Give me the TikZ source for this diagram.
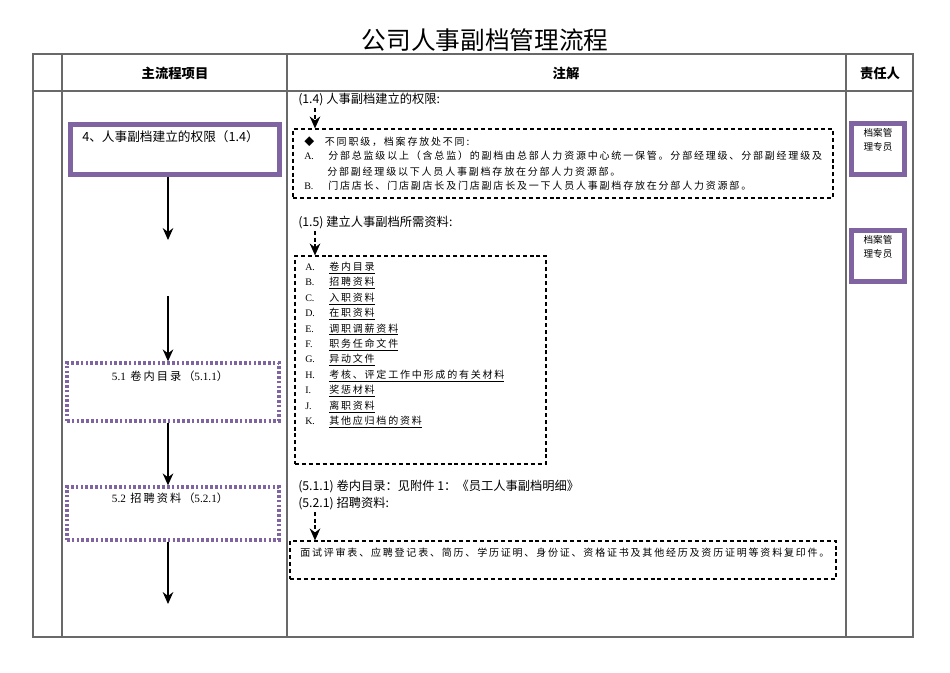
\documentclass[tikz,border=0pt]{standalone}
\usepackage{fontspec}
\setmainfont{Noto Sans CJK SC}
\newfontfamily\spc[LetterSpace=18]{Noto Sans CJK SC}
\newfontfamily\lat{Liberation Serif}
\usetikzlibrary{arrows.meta, positioning, calc}
\definecolor{docPurple}{RGB}{128, 100, 162}
\definecolor{docGrid}{RGB}{105, 105, 105}
\tikzset{
  flowbox/.style={draw=docPurple, line width=3.75pt, minimum width=156.75pt, minimum height=37.5pt, inner sep=0pt},
  subbox/.style={draw=docPurple, line width=2.5pt, dash pattern=on 2pt off 1.6pt, minimum width=159pt, inner sep=0pt},
  ownerbox/.style={draw=docPurple, line width=3.75pt, minimum width=39.75pt, minimum height=38.25pt, inner sep=0pt},
  notebox/.style={draw, line width=0.9pt, dash pattern=on 3pt off 2.2pt, inner sep=0pt},
  txt/.style={anchor=west, inner sep=0pt, font=\spc\fontsize{7.5}{9}\selectfont},
  head/.style={anchor=west, inner sep=0pt, font=\fontsize{9.2}{11}\selectfont},
  owner/.style={inner sep=0pt, align=center, font=\fontsize{7.2}{10.5}\selectfont},
  flow/.style={-{Stealth[length=9pt, width=8pt, inset=3pt]}, line width=0.8pt},
  note/.style={-{Stealth[length=9pt, width=8pt, inset=3pt]}, line width=0.8pt, dash pattern=on 3pt off 2pt},
}
\newcommand{\itm}[2]{\makebox[18pt][l]{\lat #1}\underline{#2}}
\begin{document}
\begin{tikzpicture}[x=0.75pt, y=-0.75pt]
        \useasboundingbox (0,0) rectangle (950,672);
        % Titel und Tabelle
        \node[font=\fontsize{18.5}{20}\selectfont] (title) at (485,40) {公司人事副档管理流程};
        \draw[docGrid, line width=0.8pt] (33,54) rectangle (913,637);
        \draw[docGrid, line width=0.8pt] (33,91) -- (913,91);
        \draw[docGrid, line width=0.8pt] (62,54) -- (62,637);
        \draw[docGrid, line width=0.8pt] (287,54) -- (287,637);
        \draw[docGrid, line width=0.8pt] (846,54) -- (846,637);
        \node[font=\bfseries\fontsize{10}{12}\selectfont] (hMain) at (175,73) {主流程项目};
        \node[font=\bfseries\fontsize{10}{12}\selectfont] (hNote) at (566,73) {注解};
        \node[font=\bfseries\fontsize{10}{12}\selectfont] (hOwner) at (880,73) {责任人};

        % Hauptablauf
        \node[flowbox] (b1) at (174.5,149) {};
        \node[anchor=west, inner sep=0pt, font=\fontsize{9.5}{11}\selectfont] (b1t) at (82,137) {4、人事副档建立的权限（1.4）};
        \node[subbox, minimum height=43.5pt] (b2) at (173,392) {};
        \node[inner sep=0pt, font=\spc\fontsize{8.4}{10}\selectfont] (b2t) at (170,376) {{\lat 5.1} 卷内目录（{\lat 5.1.1}）};
        \node[subbox, minimum height=39.75pt] (b3) at (173,513.5) {};
        \node[inner sep=0pt, font=\spc\fontsize{8.4}{10}\selectfont] (b3t) at (170,498) {{\lat 5.2} 招聘资料（{\lat 5.2.1}）};
        \coordinate (a1) at (168,240);
        \coordinate (s2) at (168,296);
        \coordinate (a3) at (168,604);
        \draw[flow] (b1.south -| a1) -- (a1);
        \draw[flow] (s2) -- (b2.north -| s2);
        \draw[flow] (b2.south -| s2) -- (b3.north -| s2);
        \draw[flow] (b3.south -| s2) -- (a3);

        % Verantwortliche
        \node[ownerbox] (o1) at (878,149) {};
        \node[owner] (o1t) at (878,140) {档案管\\理专员};
        \node[ownerbox] (o2) at (878,256) {};
        \node[owner] (o2t) at (878,247) {档案管\\理专员};

        % Erlaeuterungen (1.4)
        \node[head] (n14) at (298,100) {(1.4) 人事副档建立的权限:};
        \node[notebox, minimum width=405pt, minimum height=51.75pt] (d1) at (563,163.5) {};
        \coordinate (t14) at (315,108);
        \draw[note] (t14) -- (t14 |- d1.north);
        \node[txt] (d1a) at (304,142) {◆\hspace{8pt}不同职级，档案存放处不同:};
        \node[txt] (d1b) at (304,157) {\itm{A.}{}分部总监级以上（含总监）的副档由总部人力资源中心统一保管。分部经理级、分部副经理级及};
        \node[txt] (d1c) at (327,172) {分部副经理级以下人员人事副档存放在分部人力资源部。};
        \node[txt] (d1d) at (304,187) {\itm{B.}{}门店店长、门店副店长及门店副店长及一下人员人事副档存放在分部人力资源部。};

        % Erlaeuterungen (1.5)
        \node[head] (n15) at (298,223) {(1.5) 建立人事副档所需资料:};
        \node[notebox, minimum width=188.25pt, minimum height=156pt] (d2) at (420.5,360) {};
        \coordinate (t15) at (315,231);
        \draw[note] (t15) -- (t15 |- d2.north);
        \node[txt] (iA) at (305,268) {\itm{A.}{卷内目录}};
        \node[txt] (iB) at (305,283.4) {\itm{B.}{招聘资料}};
        \node[txt] (iC) at (305,298.8) {\itm{C.}{入职资料}};
        \node[txt] (iD) at (305,314.2) {\itm{D.}{在职资料}};
        \node[txt] (iE) at (305,329.6) {\itm{E.}{调职调薪资料}};
        \node[txt] (iF) at (305,345) {\itm{F.}{职务任命文件}};
        \node[txt] (iG) at (305,360.4) {\itm{G.}{异动文件}};
        \node[txt] (iH) at (305,375.8) {\itm{H.}{考核、评定工作中形成的有关材料}};
        \node[txt] (iI) at (305,391.2) {\itm{I.}{奖惩材料}};
        \node[txt] (iJ) at (305,406.6) {\itm{J.}{离职资料}};
        \node[txt] (iK) at (305,422) {\itm{K.}{其他应归档的资料}};

        % Erlaeuterungen (5.1.1) und (5.2.1)
        \node[head] (n511) at (298,487) {(5.1.1) 卷内目录：见附件 1：《员工人事副档明细》};
        \node[head] (n521) at (298,504) {(5.2.1) 招聘资料:};
        \node[notebox, minimum width=409.5pt, minimum height=28.5pt] (d3) at (563,560) {};
        \coordinate (t521) at (315,512);
        \draw[note] (t521) -- (t521 |- d3.north);
        \node[txt] (d3a) at (300,553) {面试评审表、应聘登记表、简历、学历证明、身份证、资格证书及其他经历及资历证明等资料复印件。};
\end{tikzpicture}
\end{document}
